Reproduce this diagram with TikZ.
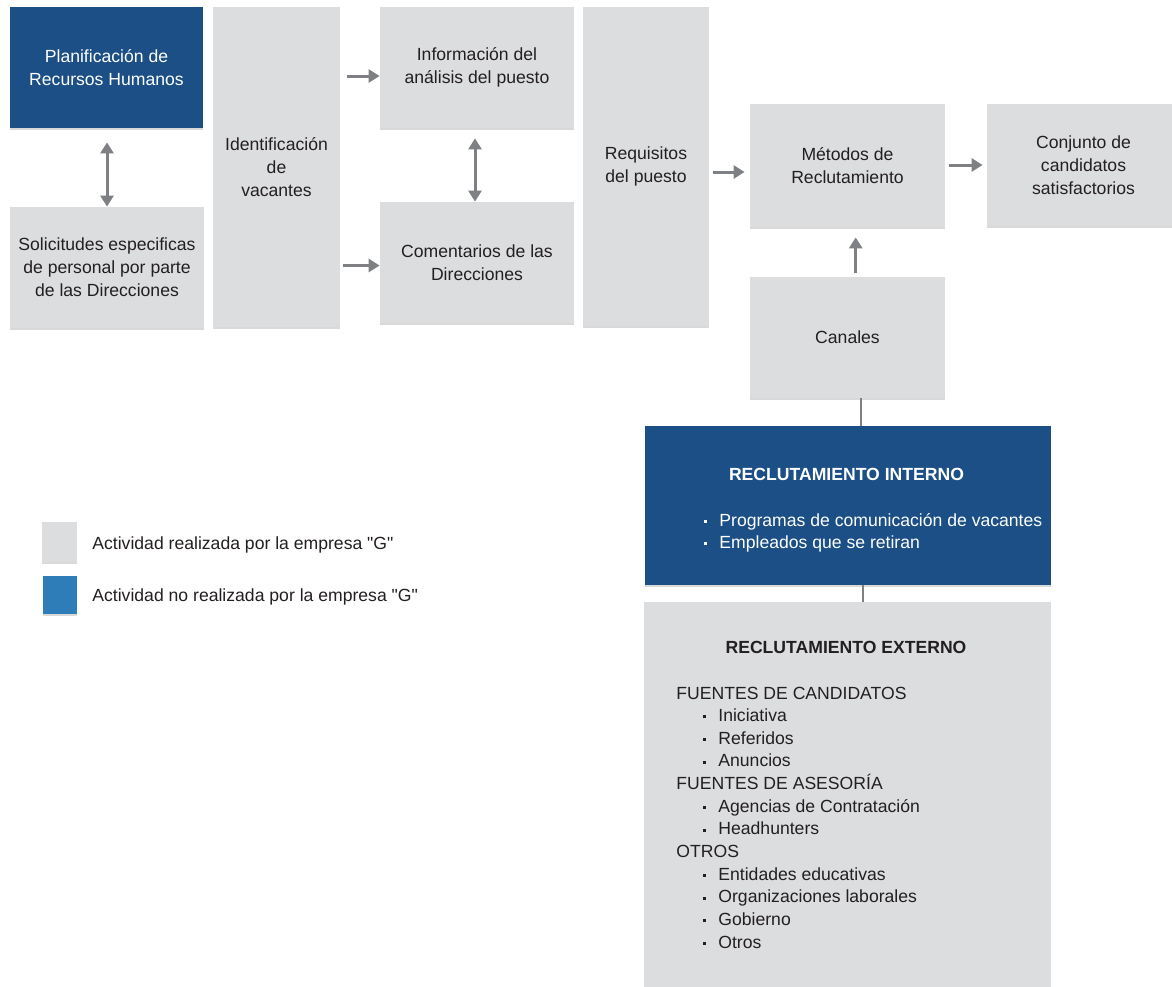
\documentclass[tikz,border=0pt]{standalone}
\usepackage{fontspec}
\setmainfont{Liberation Sans}[Ligatures=TeXOff]
\usetikzlibrary{arrows.meta,shadows}

\definecolor{boxgray}{HTML}{DCDDDF}
\definecolor{navy}{HTML}{1B4F86}
\definecolor{legblue}{HTML}{2E7CB8}
\definecolor{arrowgray}{HTML}{7F8083}
\definecolor{ink}{HTML}{231F20}

\newcommand\bodyfont{\fontsize{8.8pt}{11.5pt}\selectfont}
\newcommand\blt{\raisebox{1.7pt}{\rule{1.5pt}{1.5pt}}}
\newcommand\itm[1]{\llap{\blt\hspace{6.4pt}}#1}

\begin{document}
\begin{tikzpicture}[x=0.5pt,y=-0.5pt,
  every node/.style={font=\bodyfont, text=ink},
  panel/.style={fill=boxgray, inner sep=0pt, align=center,
    drop shadow={shadow xshift=0pt, shadow yshift=-1.2pt, opacity=0.3}},
  darkpanel/.style={panel, fill=navy, text=white},
  arr/.style={draw=arrowgray, line width=1.5pt, -{Triangle[length=5.5pt,width=6.5pt]}},
  dblarr/.style={draw=arrowgray, line width=1.5pt,
    {Triangle[length=5.5pt,width=6.5pt]}-{Triangle[length=5.5pt,width=6.5pt]}},
  link/.style={draw=arrowgray, line width=1.2pt},
  txt/.style={anchor=base west, inner sep=0pt},
  heading/.style={anchor=base, inner sep=0pt, font=\bodyfont\bfseries}
]
\useasboundingbox (0,0) rectangle (1172,986);

% process boxes
\node[darkpanel, minimum width=96.5pt, minimum height=60.5pt] (plan) at (106.5,67.5) {Planificación de\\Recursos Humanos};
\node[panel, minimum width=97pt, minimum height=60.5pt] (sol) at (107,267.5) {Solicitudes especificas\\de personal por parte\\de las Direcciones};
\node[panel, minimum width=63.5pt, minimum height=160pt] (ident) at (276.5,167) {Identificación\\de\\vacantes};
\node[panel, minimum width=97pt, minimum height=60.5pt] (info) at (477,67.5) {Información del\\análisis del puesto};
\node[panel, minimum width=97pt, minimum height=60.5pt] (com) at (477,262.5) {Comentarios de las\\Direcciones};
\node[panel, minimum width=63pt, minimum height=159.5pt] (req) at (646,166.5) {Requisitos\\del puesto};
\node[panel, minimum width=97.5pt, minimum height=61.5pt] (met) at (847.5,165.5) {Métodos de\\Reclutamiento};
\node[panel, minimum width=96.5pt, minimum height=61pt] (conj) at (1083.5,165) {Conjunto de\\candidatos\\satisfactorios};
\node[panel, minimum width=97.5pt, minimum height=60.5pt] (can) at (847.5,337.5) {Canales};
\node[darkpanel, minimum width=203pt, minimum height=79.5pt] (int) at (848,505.5) {};
\node[panel, minimum width=203.5pt, minimum height=200pt] (ext) at (847.5,802) {};

% internal recruitment
\node[heading, text=white] (inttitle) at (846.5,480) {RECLUTAMIENTO INTERNO};
\node[txt, text=white] (int1) at (719,526) {\itm{Programas de comunicación de vacantes}};
\node[txt, text=white] (int2) at (719,548.7) {\itm{Empleados que se retiran}};

% external recruitment
\node[heading] (exttitle) at (846,653.3) {RECLUTAMIENTO EXTERNO};
\foreach \k/\t [count=\i from 0] in {h/FUENTES DE CANDIDATOS, b/Iniciativa, b/Referidos, b/Anuncios,
    h/FUENTES DE ASESORÍA, b/Agencias de Contratación, b/Headhunters, h/OTROS,
    b/Entidades educativas, b/Organizaciones laborales, b/Gobierno, b/Otros}{
  \if b\k
    \node[txt] (ext\i) at (718,699+22.66*\i) {\itm{\t}};
  \else
    \node[txt] (ext\i) at (676,699+22.66*\i) {\t};
  \fi
}

% legend
\node[panel, minimum width=17.5pt, minimum height=20pt] (leg1) at (59.5,542) {};
\node[panel, fill=legblue, minimum width=17pt, minimum height=19pt] (leg2) at (60,595) {};
\node[txt] (leg1t) at (92,549.3) {Actividad realizada por la empresa "G"};
\node[txt] (leg2t) at (92,601.7) {Actividad no realizada por la empresa "G"};

% connectors
\draw[dblarr, shorten <=7pt] (plan.south -| sol.north) -- (sol.north);
\coordinate (ia) at ([yshift=-4.25pt]info.west);
\draw[arr, shorten <=3.5pt] (ident.east |- ia) -- (ia);
\coordinate (ca) at ([yshift=-1.5pt]com.west);
\draw[arr, shorten <=1.5pt] (ident.east |- ca) -- (ca);
\draw[dblarr, shorten <=5pt] ([xshift=-1pt]info.south) -- ([xshift=-1pt]com.north);
\coordinate (ma) at ([yshift=-3.25pt]met.west);
\draw[arr, shorten <=2pt, shorten >=2.5pt] (req.east |- ma) -- (ma);
\draw[arr, shorten <=1.6pt, shorten >=2pt] (met.east |- conj.west) -- (conj.west);
\draw[arr, shorten <=1.6pt, shorten >=5pt] ([xshift=4.1pt]can.north) -- ([xshift=4.1pt]met.south);
\draw[link] ([xshift=6.75pt]can.south) -- ([xshift=6.5pt]int.north);
\draw[link] ([xshift=7.35pt]int.south) -- ([xshift=7.6pt]ext.north);
\end{tikzpicture}
\end{document}
